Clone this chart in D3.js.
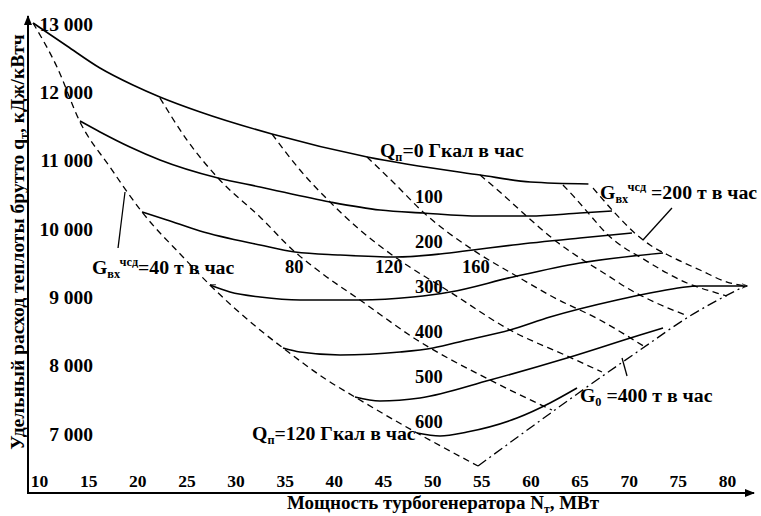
<!DOCTYPE html>
<html><head><meta charset="utf-8">
<script src="https://cdn.jsdelivr.net/npm/d3@7"></script>
<style>
body{margin:0;background:#fff}
svg{display:block}
text{font-family:"Liberation Serif","Times New Roman",serif;font-weight:bold;fill:#000}
</style>
</head><body>
<svg id="chart" width="761" height="516"></svg>
<script>
// ---- tick labels ----
const xTicks = [10,15,20,25,30,35,40,45,50,55,60,65,70,75,80];
const yTicks = [7000,8000,9000,10000,11000,12000,13000];

// ---- solid curves: Qп (Гкал в час) levels, points [N, q] ----
const qLevels = [0,100,200,300,400,500,600];
const q0   = [[9.4,13015],[12.85,12678],[16.2,12356],[19.55,12107],[22.3,11932],[26.4,11712],[33.7,11390],[43.4,11054],[54.9,10790],[60.0,10688],[65.9,10659]];
const q100 = [[14.17,11580],[16.21,11420],[19.25,11200],[22.31,11010],[28.21,10746],[32.49,10615],[39.61,10395],[44.69,10278],[49.07,10234],[54.87,10190],[59.96,10190],[65.04,10234],[68.3,10263]];
const q200 = [[20.48,10249],[23.02,10132],[26.38,9971],[32.49,9766],[36.05,9663],[40.63,9620],[46.22,9590],[50.8,9634],[54.16,9693],[58.23,9766],[65.04,9868],[70.33,9941]];
const q300 = [[27.4,9180],[29.43,9078],[32.49,9005],[36.56,8961],[42.66,8961],[48.05,9005],[51.82,9078],[58.23,9298],[65.04,9502],[73.49,9649]];
const q400 = [[34.83,8259],[36.56,8200],[40.63,8156],[46.73,8200],[50.09,8259],[53.55,8376],[57.92,8522],[61.99,8712],[68.81,8961],[72.17,9063],[77.25,9166],[82.03,9166]];
const q500 = [[42.15,7541],[44.69,7483],[48.76,7527],[55.89,7790],[63.72,8112],[71.15,8449],[73.49,8551]];
const q600 = [[48.46,7015],[50.8,6971],[53.55,7029],[58.63,7234],[61.99,7454],[64.74,7673]];

// ---- dashed lines: Gвх (т в час) ----
const g40  = [[9.39,13015],[11.83,12371],[14.17,11566],[17.22,10907],[20.48,10249],[24.65,9590],[27.4,9180],[32.49,8522],[34.83,8259],[39.3,7790],[42.15,7541],[48.46,7015],[54.67,6532]];
const g80  = [[22.31,11917],[25.06,11302],[28.21,10746],[32.49,10176],[36.05,9663],[38.59,9371],[42.66,8961],[48.46,8376],[55.89,7790],[62.19,7351]];
const g120 = [[33.71,11390],[36.56,10863],[39.61,10395],[42.66,9985],[46.22,9590],[51.82,9078],[57.92,8522],[63.72,8142],[67.28,7907]];
const g160 = [[43.37,11054],[46.22,10659],[49.07,10249],[54.16,9693],[58.74,9298],[62.3,9005],[67.08,8668],[71.66,8273]];
const g180 = [[54.87,10790],[56.9,10541],[59.14,10249],[60.97,10015],[62.7,9810],[65.35,9546],[67.79,9327],[69.83,9137],[72.17,8961],[76.03,8727]];
const g190 = [[63.31,10644],[64.74,10424],[66.06,10205],[67.89,9912],[69.42,9737],[71.15,9590],[73.89,9356],[75.93,9210],[78.98,9063],[80.0,9020]];
const g200 = [[66.37,10600],[68.6,10234],[70.84,9912],[72.17,9766],[74.4,9590],[77.25,9400],[80.0,9224],[81.83,9166]];

// ---- dash-dot line: G0 = 400 т в час ----
const g0line = [[54.67,6532],[59.96,7088],[65.04,7615],[71.15,8229],[76.23,8727],[81.83,9166]];

const svg = d3.select("#chart");
const x = d3.scaleLinear().domain([10,80]).range([39,727]);
const y = d3.scaleLinear().domain([7000,13000]).range([434,24]);

// markers
const defs = svg.append("defs");
defs.append("marker").attr("id","arr").attr("viewBox","0 0 10 10").attr("refX",9).attr("refY",5)
  .attr("markerWidth",10).attr("markerHeight",10).attr("markerUnits","userSpaceOnUse").attr("orient","auto")
  .append("path").attr("d","M0,1 L10,5 L0,9 Z").attr("fill","#000");
defs.append("marker").attr("id","open").attr("viewBox","0 0 10 10").attr("refX",9).attr("refY",5)
  .attr("markerWidth",6).attr("markerHeight",6).attr("markerUnits","userSpaceOnUse").attr("orient","auto-start-reverse")
  .append("path").attr("d","M0,1 L10,5 L0,9").attr("fill","none").attr("stroke","#000").attr("stroke-width",1.3);

// axes lines
svg.append("line").attr("x1",28).attr("y1",493).attr("x2",28).attr("y2",16)
  .attr("stroke","#000").attr("stroke-width",2).attr("marker-end","url(#arr)");
svg.append("line").attr("x1",27).attr("y1",493).attr("x2",754).attr("y2",493)
  .attr("stroke","#000").attr("stroke-width",2).attr("marker-end","url(#arr)");

// x axis tick labels
const fmt = d => d3.format(",")(d).replace(/,/g," ");
const gx = svg.append("g").attr("transform","translate(0,493)")
  .call(d3.axisBottom(x).tickValues(xTicks).tickSize(0).tickFormat(d3.format("d")));
gx.select(".domain").remove();
gx.selectAll("text").attr("y",-6).attr("dy",0).style("font-size","17.5px")
  .style("font-family","'Liberation Serif',serif").style("font-weight","bold").attr("fill","#000");

// y axis tick labels
const gy = svg.append("g").attr("transform","translate(93,0)")
  .call(d3.axisLeft(y).tickValues(yTicks).tickSize(0).tickPadding(0).tickFormat(fmt));
gy.select(".domain").remove();
gy.selectAll("text").style("font-size","19.5px")
  .style("font-family","'Liberation Serif',serif").style("font-weight","bold").attr("fill","#000");

// lines
const line = d3.line().x(d=>x(d[0])).y(d=>y(d[1])).curve(d3.curveMonotoneX);
const solids = [q0,q100,q200,q300,q400,q500,q600];
svg.append("g").selectAll("path").data(solids).join("path")
  .attr("d",line).attr("fill","none").attr("stroke","#000").attr("stroke-width",1.6)
  .attr("marker-start",(d,i)=> i===3 ? "url(#open)" : null)
  .attr("marker-end",(d,i)=> i===4 ? "url(#open)" : null);
const dashed = [g40,g80,g120,g160,g180,g190,g200];
svg.append("g").selectAll("path").data(dashed).join("path")
  .attr("d",line).attr("fill","none").attr("stroke","#000").attr("stroke-width",1.3)
  .attr("stroke-dasharray","6.5,4.5");
svg.append("path").datum(g0line).attr("d",line).attr("fill","none").attr("stroke","#000")
  .attr("stroke-width",1.3).attr("stroke-dasharray","10,4,2,4");

// rich text helper
function rich(g, parts, size){
  const t = g.append("text").style("font-size",size+"px");
  let shift = 0;
  parts.forEach(([s,mode])=>{
    let target = mode==="sub"? size*0.22 : mode==="sup"? -size*0.38 : 0;
    const sp = t.append("tspan").text(s).attr("dy", target-shift);
    if(mode) sp.style("font-size",(size*0.62)+"px");
    shift = target;
  });
  return t;
}

// annotations [text parts, N, q]
const ann = [
  [[["Q"],["п","sub"],["=0 Гкал в час"]], 44.69, 11054],
  [[["Q"],["п","sub"],["=120 Гкал в час"]], 31.67, 6912],
  [[["G"],["вх","sub"],["чсд","sup"],["=40 т в час"]], 15.39, 9342],
  [[["G"],["вх","sub"],["чсд","sup"],[" =200 т в час"]], 67.08, 10439],
  [[["G"],["0","sub"],[" =400 т в час"]], 65.04, 7468]
];
ann.forEach(([parts,nx,ny])=>{
  rich(svg.append("g").attr("transform",`translate(${x(nx)},${y(ny)})`), parts, 19.8);
});
const qLabelsY = [10381,9722,9063,8405,7746,7088];
qLevels.slice(1).forEach((q,i)=>{
  svg.append("text").attr("x",x(48.26)).attr("y",y(qLabelsY[i])).style("font-size","18.5px").text(q);
});
const gLabels = [[80,35.03],[120,44.19],[160,53.04]];
gLabels.forEach(([g,nx])=>{
  svg.append("text").attr("x",x(nx)).attr("y",y(9356)).style("font-size","18.5px").text(g);
});
// leaders
const leaders = [[[18.04,9722],[18.75,10541]],[[74.4,10307],[71.45,9839]],[[69.83,7849],[69.32,8112]]];
leaders.forEach(([a,b])=>{
  svg.append("line").attr("x1",x(a[0])).attr("y1",y(a[1])).attr("x2",x(b[0])).attr("y2",y(b[1]))
    .attr("stroke","#000").attr("stroke-width",1.3);
});

// axis titles
const yt = svg.append("g").attr("transform","translate(24,242) rotate(-90)");
rich(yt,[["Удельный расход теплоты брутто q"],["т","sub"],[",  кДж/кВтч"]],19.5).attr("text-anchor","middle");
const xt = svg.append("g").attr("transform","translate(443,509)");
rich(xt,[["Мощность турбогенератора N"],["т","sub"],[", МВт"]],19).attr("text-anchor","middle");
</script>
</body></html>
